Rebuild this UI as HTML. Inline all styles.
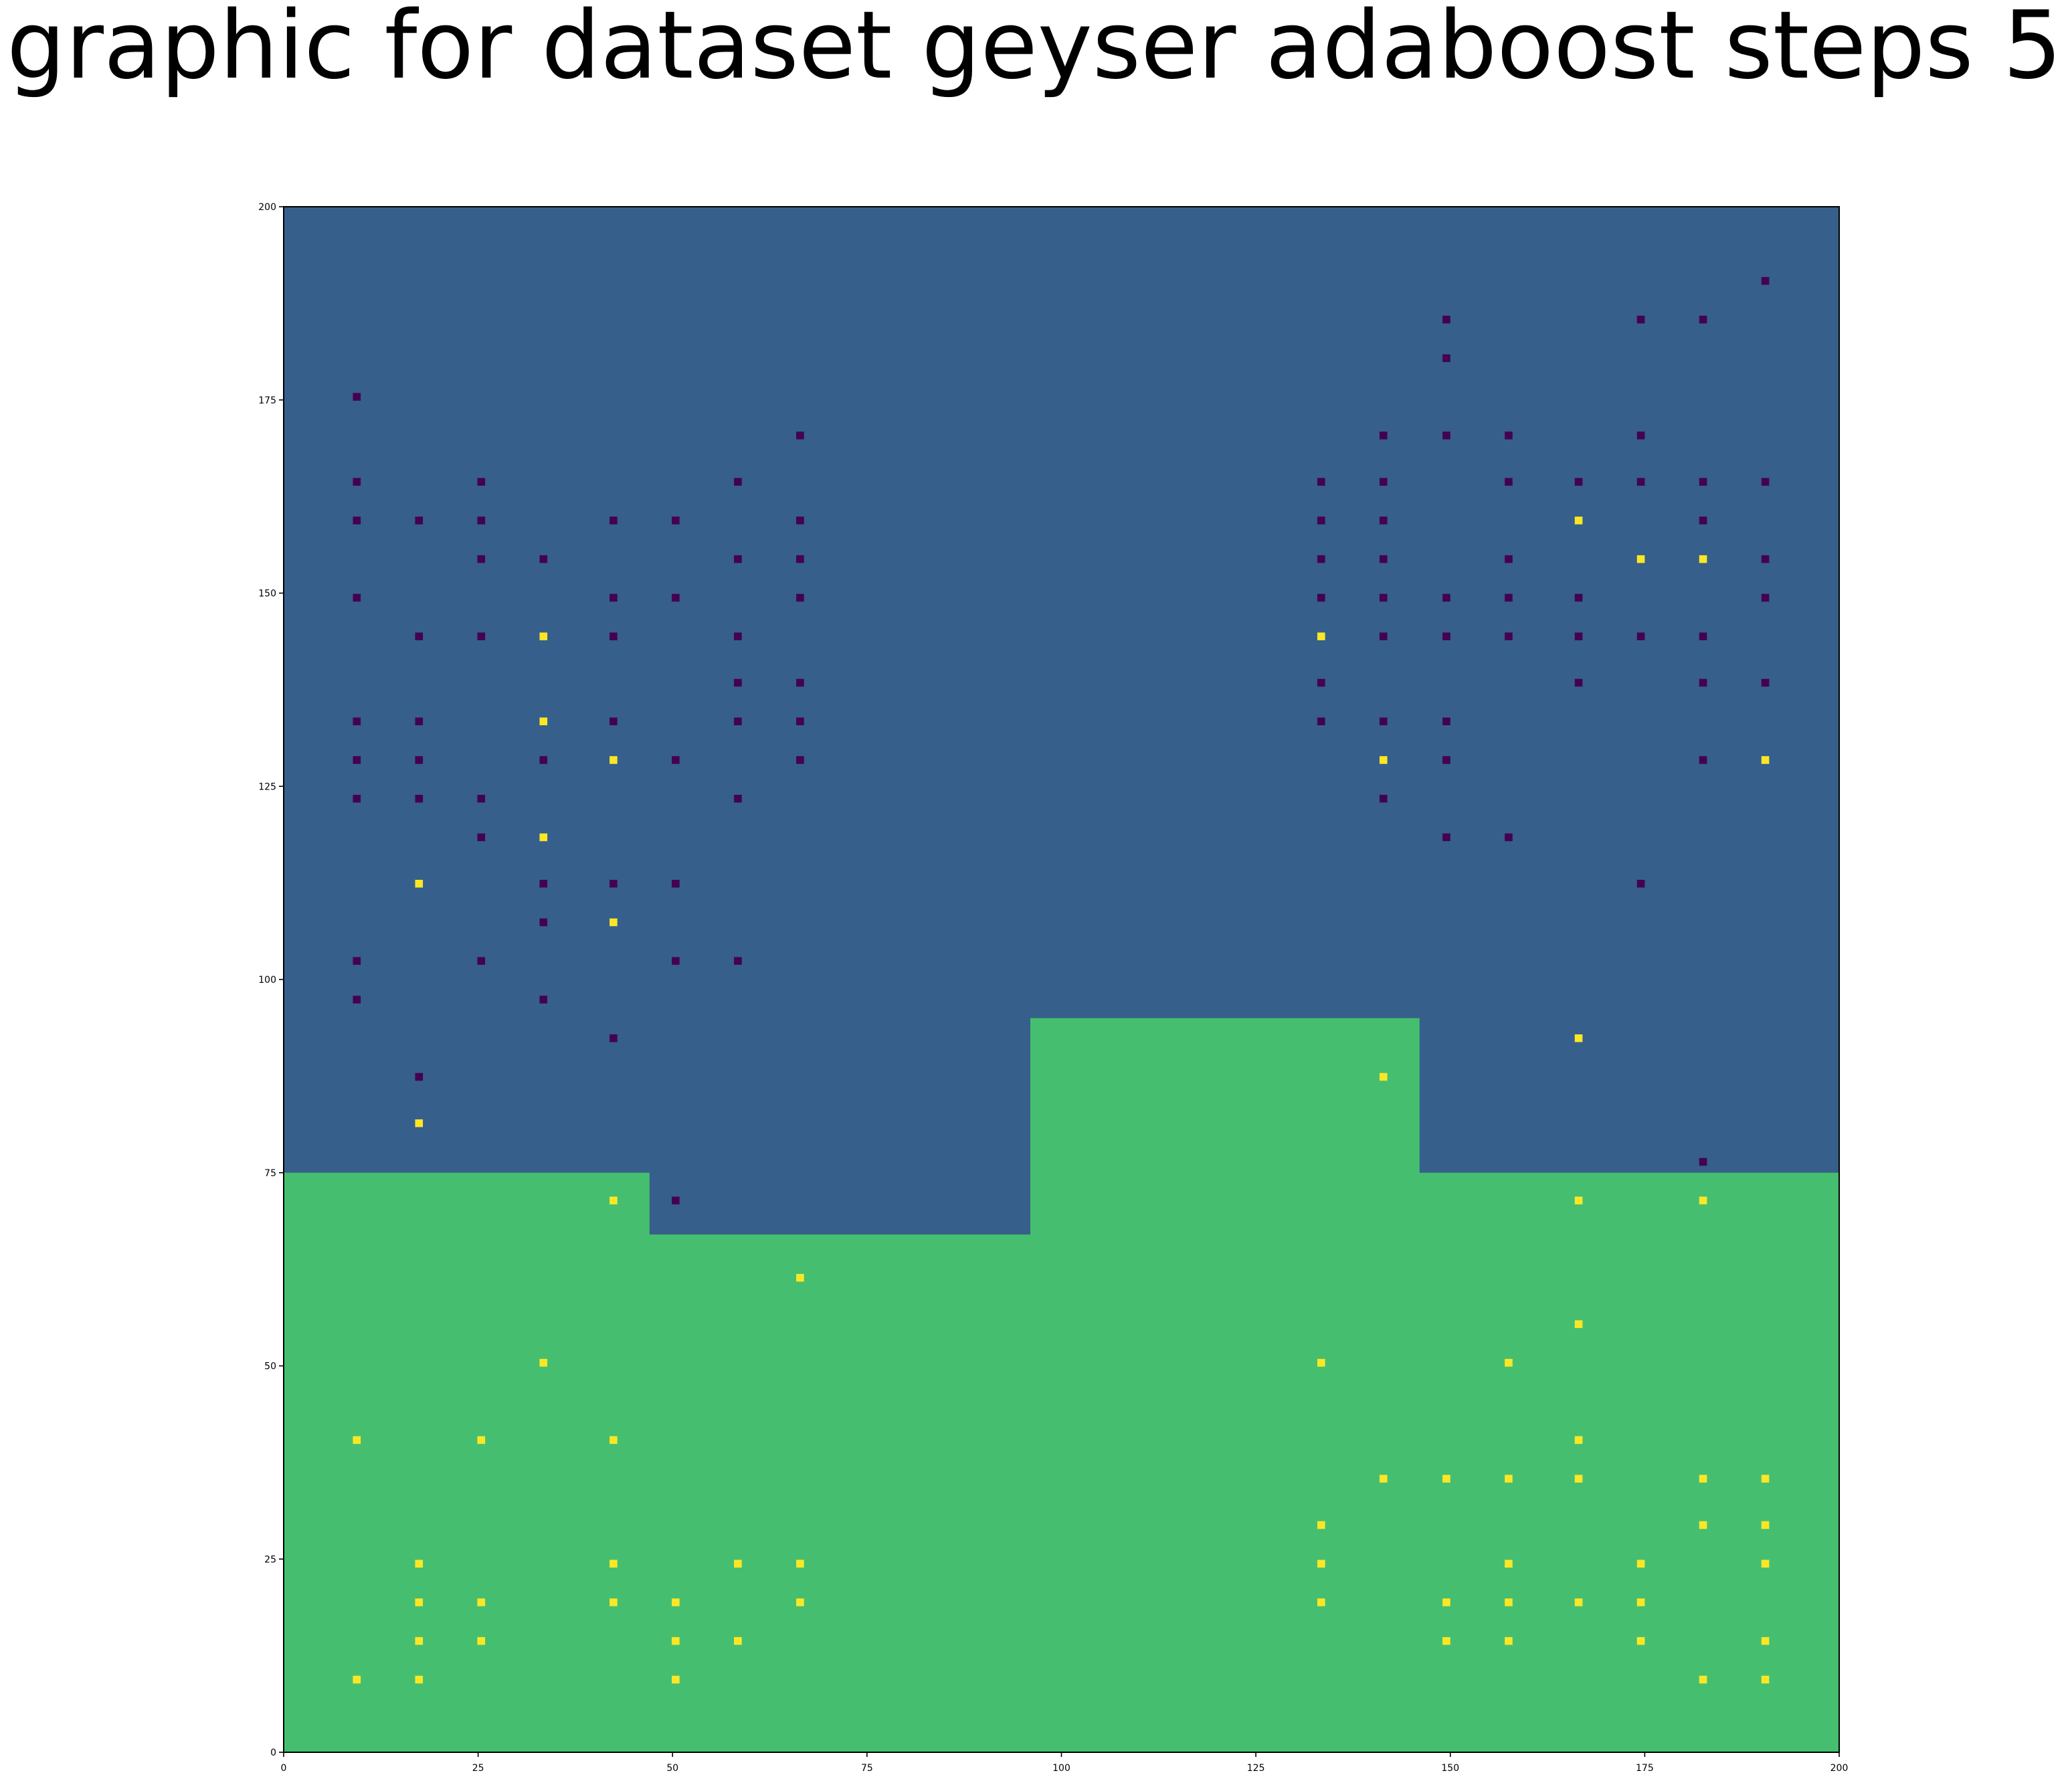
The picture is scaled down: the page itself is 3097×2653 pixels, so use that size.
<!DOCTYPE html>
<html><head><meta charset="utf-8"><style>
html,body{margin:0;padding:0;background:#fff;}
svg{display:block;}
</style></head><body>
<svg id="chart" width="3097" height="2653" xmlns="http://www.w3.org/2000/svg">
<text x="10" y="116" font-family="DejaVu Sans, Liberation Sans, sans-serif" font-size="140" textLength="3072" lengthAdjust="spacingAndGlyphs">graphic for dataset geyser adaboost steps 5</text>
<g id="plot"></g>
</svg>
<script>
// decision regions: [x0, x1, yTopOfGreen]
const regionX0 = [0, 47, 96, 146];
const regionX1 = [47, 96, 146, 200];
const regionY = [75, 67, 95, 75];
// point columns (x) and their y values per class
const colX = [9.4,17.4,25.4,33.4,42.4,50.4,58.4,66.4,133.4,141.4,149.5,157.5,166.5,174.5,182.5,190.5];
const purpleY = [
 [176,165,160,150,134,129,124,103,98],
 [160,145,134,129,124,88],
 [165,160,155,145,124,119,103],
 [155,129,113,108,98],
 [160,150,145,134,113,93],
 [160,150,129,113,103,72],
 [165,155,145,139,134,124,103],
 [171,160,155,150,139,134,129],
 [165,160,155,150,139,134],
 [171,165,160,155,150,145,134,124],
 [186,181,171,150,145,134,129,119],
 [171,165,155,150,145,119],
 [165,150,145,139],
 [186,171,165,145,113],
 [186,165,160,145,139,129,77],
 [191,165,155,150,139]
];
const yellowY = [
 [41,10],
 [113,82,25,20,15,10],
 [41,20,15],
 [145,134,119,51],
 [129,108,72,41,25,20],
 [20,15,10],
 [25,15],
 [62,25,20],
 [145,51,30,25,20],
 [129,88,36],
 [36,20,15],
 [51,36,25,20,15],
 [160,93,72,56,41,36,20],
 [155,25,20,15],
 [155,72,36,30,10],
 [129,36,30,25,15,10]
];
const xTicks = [0,25,50,75,100,125,150,175,200];
const yTicks = [0,25,50,75,100,125,150,175,200];

const L=424, R=2749, T=309, B=2619;
const sx = v => L + v/200*(R-L);
const sy = v => B - v/200*(B-T);
const NS="http://www.w3.org/2000/svg";
const g=document.getElementById('plot');
function mk(tag, attrs){const e=document.createElementNS(NS,tag);for(const k in attrs)e.setAttribute(k,attrs[k]);g.appendChild(e);return e;}

let bg=mk('rect',{x:L,y:T,width:R-L,height:B-T,fill:'#365f8b'});


for(let i=0;i<regionX0.length;i++){
  const x0=sx(regionX0[i]), x1=sx(regionX1[i]), y=sy(regionY[i]);
  const r=mk('rect',{x:x0,y:y,width:x1-x0+0.5,height:B-y,fill:'#45bf6f'});
  
  
}
const w=(R-L)/200, h=(B-T)/200;
function pts(arr,color,name){
  for(let c=0;c<colX.length;c++){
    for(const yv of arr[c]){
      const p=mk('rect',{x:sx(colX[c])-w/2,y:sy(yv-0.6)-h/2,width:w,height:h,fill:color});
      
      
    }
  }
}
pts(purpleY,'#440154','point-class-0');
pts(yellowY,'#fde725','point-class-1');

let fr=mk('rect',{x:L,y:T,width:R-L,height:B-T,fill:'none',stroke:'#000','stroke-width':2});


for(const t of xTicks){
  const x=sx(t);
  const l=mk('line',{x1:x,x2:x,y1:B,y2:B+7,stroke:'#000','stroke-width':1.6});
  
  
  const tx=mk('text',{x:x,y:B+28,'text-anchor':'middle','font-family':'DejaVu Sans, Liberation Sans, sans-serif','font-size':14});
  tx.textContent=t;
  
  
}
for(const t of yTicks){
  const y=sy(t);
  const l=mk('line',{x1:L-7,x2:L,y1:y,y2:y,stroke:'#000','stroke-width':1.6});
  
  
  const tx=mk('text',{x:L-11,y:y+5,'text-anchor':'end','font-family':'DejaVu Sans, Liberation Sans, sans-serif','font-size':14});
  tx.textContent=t;
  
  
}
</script>
</body></html>
